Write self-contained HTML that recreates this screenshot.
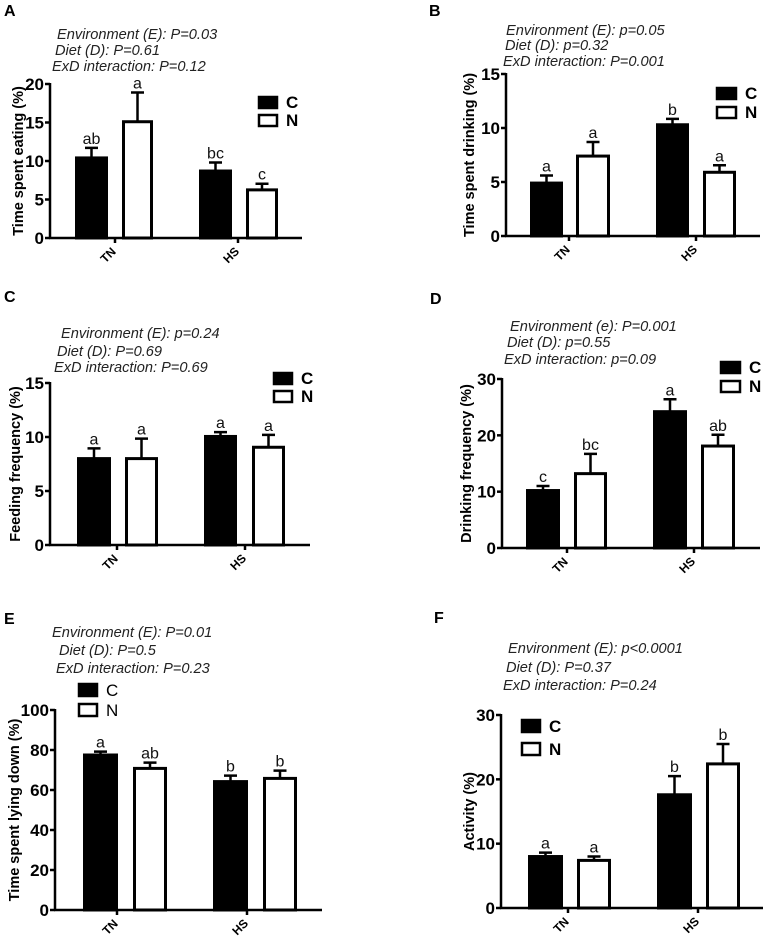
<!DOCTYPE html>
<html><head><meta charset="utf-8">
<style>
html,body{margin:0;padding:0;background:#fff;}
svg{display:block;font-family:"Liberation Sans",sans-serif;}
</style></head>
<body>
<svg id="fig" width="767" height="940" viewBox="0 0 767 940"></svg>
<script>
const groups = ["TN", "HS"];
// Panel A: time spent eating
const aC = [10.4, 8.7], aCErr = [1.3, 1.1], aN = [15.1, 6.25], aNErr = [3.8, 0.8];
const aCLet = ["ab", "bc"], aNLet = ["a", "c"];
const aTicks = [0, 5, 10, 15, 20];
// Panel B: time spent drinking
const bC = [4.9, 10.3], bCErr = [0.7, 0.55], bN = [7.4, 5.9], bNErr = [1.3, 0.65];
const bCLet = ["a", "b"], bNLet = ["a", "a"];
const bTicks = [0, 5, 10, 15];
// Panel C: feeding frequency
const cC = [8.0, 10.05], cCErr = [0.95, 0.4], cN = [8.0, 9.05], cNErr = [1.85, 1.15];
const cCLet = ["a", "a"], cNLet = ["a", "a"];
const cTicks = [0, 5, 10, 15];
// Panel D: drinking frequency
const dC = [10.2, 24.2], dCErr = [0.8, 2.2], dN = [13.2, 18.1], dNErr = [3.5, 2.0];
const dCLet = ["c", "a"], dNLet = ["bc", "ab"];
const dTicks = [0, 10, 20, 30];
// Panel E: lying down
const eC = [77.5, 64.2], eCErr = [1.7, 3.0], eN = [70.8, 65.8], eNErr = [2.9, 3.9];
const eCLet = ["a", "b"], eNLet = ["ab", "b"];
const eTicks = [0, 20, 40, 60, 80, 100];
// Panel F: activity
const fC = [8.0, 17.6], fCErr = [0.6, 2.9], fN = [7.4, 22.4], fNErr = [0.6, 3.1];
const fCLet = ["a", "b"], fNLet = ["a", "b"];
const fTicks = [0, 10, 20, 30];

const NS = "http://www.w3.org/2000/svg";
const svg = document.getElementById("fig");
function mk(tag, attrs, parent, text) {
  const e = document.createElementNS(NS, tag);
  for (const k in attrs) e.setAttribute(k, attrs[k]);
  if (text !== undefined) e.textContent = text;
  (parent || svg).appendChild(e);
  return e;
}

const panels = [
 {id:"a", label:"A", lx:4, ly:16, ax:50, x1:302, yTop:84, y0:238, max:20, ticks:aTicks,
  C:aC, CE:aCErr, N:aN, NE:aNErr, CL:aCLet, NL:aNLet, ytitle:"Time spent eating (%)", ytx:18,
  bars:[[75,108],[122,153],[199,232],[246,278]], gx:[115,238],
  lines:[["Environment (E): P=0.03",57,34],["Diet (D): P=0.61",55,50],["ExD interaction: P=0.12",52,66]],
  leg:{x:258,yc:96,yn:114,w:20,h:11}},
 {id:"b", label:"B", lx:429, ly:16, ax:506, x1:760, yTop:74, y0:236, max:15, ticks:bTicks,
  C:bC, CE:bCErr, N:bN, NE:bNErr, CL:bCLet, NL:bNLet, ytitle:"Time spent drinking (%)", ytx:469,
  bars:[[530,563],[576,610],[656,689],[703,736]], gx:[569,696],
  lines:[["Environment (E): p=0.05",506,30],["Diet (D): p=0.32",505,45],["ExD interaction: P=0.001",503,61]],
  leg:{x:716,yc:87,yn:106,w:21,h:11}},
 {id:"c", label:"C", lx:4, ly:302, ax:50, x1:310, yTop:383, y0:545, max:15, ticks:cTicks,
  C:cC, CE:cCErr, N:cN, NE:cNErr, CL:cCLet, NL:cNLet, ytitle:"Feeding frequency (%)", ytx:15,
  bars:[[77,111],[125,158],[204,237],[252,285]], gx:[117,245],
  lines:[["Environment (E): p=0.24",61,333],["Diet (D): P=0.69",57,351],["ExD interaction: P=0.69",54,367]],
  leg:{x:273,yc:372,yn:390,w:20,h:11}},
 {id:"d", label:"D", lx:430, ly:304, ax:502, x1:760, yTop:379, y0:548, max:30, ticks:dTicks,
  C:dC, CE:dCErr, N:dN, NE:dNErr, CL:dCLet, NL:dNLet, ytitle:"Drinking frequency (%)", ytx:466,
  bars:[[526,560],[574,607],[653,687],[701,735]], gx:[567,694],
  lines:[["Environment (e): P=0.001",510,326],["Diet (D): p=0.55",507,342],["ExD interaction: p=0.09",504,359]],
  leg:{x:720,yc:361,yn:380,w:21,h:11}},
 {id:"e", label:"E", lx:4, ly:624, ax:55, x1:322, yTop:710, y0:910, max:100, ticks:eTicks,
  C:eC, CE:eCErr, N:eN, NE:eNErr, CL:eCLet, NL:eNLet, ytitle:"Time spent lying down (%)", ytx:14,
  bars:[[83,118],[133,167],[213,248],[263,297]], gx:[117,247],
  lines:[["Environment (E): P=0.01",52,632],["Diet (D): P=0.5",59,650],["ExD interaction: P=0.23",56,668]],
  leg:{x:78,yc:683,yn:703,w:20,h:12}, legNormal:true},
 {id:"f", label:"F", lx:434, ly:623, ax:501, x1:763, yTop:715, y0:908, max:30, ticks:fTicks,
  C:fC, CE:fCErr, N:fN, NE:fNErr, CL:fCLet, NL:fNLet, ytitle:"Activity (%)", ytx:469,
  bars:[[528,563],[577,611],[657,692],[706,740]], gx:[568,698],
  lines:[["Environment (E): p<0.0001",508,648],["Diet (D): P=0.37",506,667],["ExD interaction: P=0.24",503,685]],
  leg:{x:521,yc:719,yn:742,w:20,h:12}}
];

panels.forEach(p => {
  const g = mk("g", {});
  
  
  const yScale = v => p.y0 - (v / p.max) * (p.y0 - p.yTop);

  const lab = mk("text", {x:p.lx, y:p.ly, "font-size":16, "font-weight":"bold"}, g, p.label);
  
  

  p.lines.forEach((l, i) => {
    const t = mk("text", {x:l[1], y:l[2]+5, "font-size":14.6, "font-style":"italic", fill:"#222"}, g, l[0]);
    
    
  });

  const yax = mk("line", {x1:p.ax, x2:p.ax, y1:p.yTop-1, y2:p.y0, stroke:"#000", "stroke-width":2.5}, g);
  
  
  p.ticks.forEach(tv => {
    const y = yScale(tv);
    mk("line", {x1:p.ax-5, x2:p.ax, y1:y, y2:y, stroke:"#000", "stroke-width":2.5}, g);
    const tl = mk("text", {x:p.ax-6, y:y+6, "font-size":17, "font-weight":"bold", "text-anchor":"end"}, g, String(tv));
    
    
  });
  const ym = (p.yTop + p.y0) / 2;
  const yt = mk("text", {x:p.ytx, y:ym, "font-size":14.5, "font-weight":"bold", "text-anchor":"middle",
    transform:`rotate(-90 ${p.ytx} ${ym})`, dy:5}, g, p.ytitle);
  
  

  const xax = mk("line", {x1:p.ax-1, x2:p.x1, y1:p.y0, y2:p.y0, stroke:"#000", "stroke-width":2.5}, g);
  
  
  groups.forEach((gn, i) => {
    const x = p.gx[i];
    mk("line", {x1:x, x2:x, y1:p.y0, y2:p.y0+5, stroke:"#000", "stroke-width":2.5}, g);
    const tx = x - 4, ty = p.y0 + 20;
    const xl = mk("text", {x:tx, y:ty, "font-size":12, "font-weight":"bold", "text-anchor":"middle",
      transform:`rotate(-45 ${tx} ${ty})`}, g, gn);
    
    
  });

  const series = [{v:p.C, e:p.CE, l:p.CL, fill:"#000", nm:"control"}, {v:p.N, e:p.NE, l:p.NL, fill:"#fff", nm:"n-diet"}];
  groups.forEach((gn, gi) => {
    series.forEach((s, si) => {
      const [bx0, bx1] = p.bars[gi*2 + si];
      const top = yScale(s.v[gi]);
      const r = mk("rect", {x:bx0+1.5, y:top, width:bx1-bx0-3, height:p.y0-top, fill:s.fill, stroke:"#000", "stroke-width":3}, g);
      
      
      const cx = (bx0 + bx1) / 2;
      const et = yScale(s.v[gi] + s.e[gi]);
      const eb = mk("path", {d:`M${cx} ${top} V${et} M${cx-6.5} ${et} H${cx+6.5}`, stroke:"#000", "stroke-width":2.5, fill:"none"}, g);
      
      
      const lt = mk("text", {x:cx, y:et-4, "font-size":16, "text-anchor":"middle", fill:"#111"}, g, s.l[gi]);
      
      
    });
  });

  const L = p.leg;
  const fw = p.legNormal ? "normal" : "bold";
  const lc = mk("rect", {x:L.x+1, y:L.yc+1, width:L.w-2, height:L.h, fill:"#000", stroke:"#000", "stroke-width":2.5}, g);
  
  
  const lct = mk("text", {x:L.x+L.w+8, y:L.yc+L.h+1, "font-size":17, "font-weight":fw}, g, "C");
  
  
  const ln = mk("rect", {x:L.x+1, y:L.yn+1, width:L.w-2, height:L.h, fill:"#fff", stroke:"#000", "stroke-width":2.5}, g);
  
  
  const lnt = mk("text", {x:L.x+L.w+8, y:L.yn+L.h+1, "font-size":17, "font-weight":fw}, g, "N");
  
  
});
</script>
</body></html>
